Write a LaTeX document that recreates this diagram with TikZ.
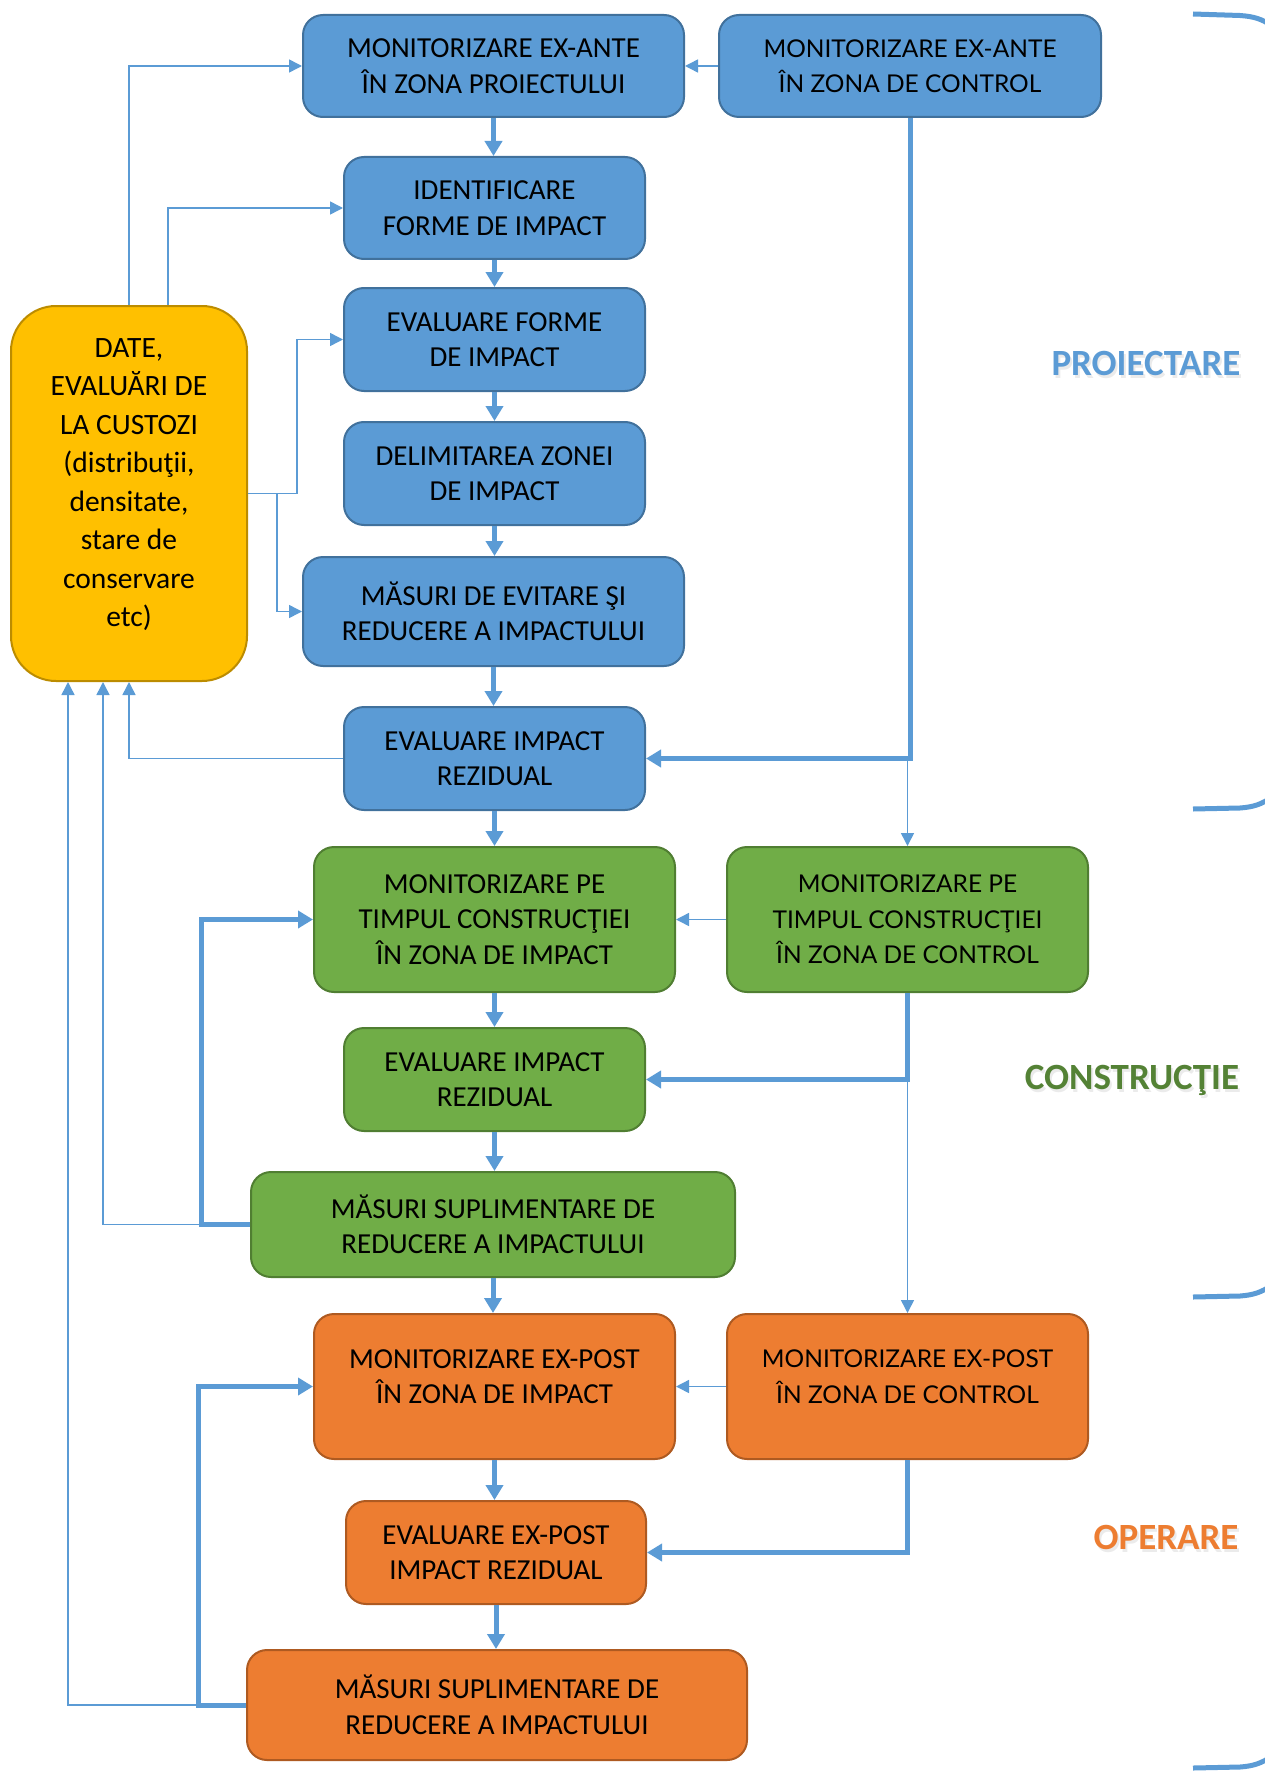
\documentclass[tikz,border=0pt]{standalone}
\usepackage{fontspec}
\setmainfont{Carlito}
\newfontfamily\ctrlfont{Lato}
\usetikzlibrary{arrows.meta}

\definecolor{pblue}{HTML}{5B9BD5}
\definecolor{pblueD}{HTML}{41719C}
\definecolor{pgreen}{HTML}{70AD47}
\definecolor{pgreenD}{HTML}{507E32}
\definecolor{pgreenL}{HTML}{548235}
\definecolor{porange}{HTML}{ED7D31}
\definecolor{porangeD}{HTML}{AE5A21}
\definecolor{pyellow}{HTML}{FFC000}
\definecolor{pyellowD}{HTML}{BC8C00}

\tikzset{
  box/.style={draw, line width=2pt, rounded corners=20pt, align=center,
    inner sep=0pt, text=black, font=\fontsize{29}{35.5}\selectfont},
  ctrl/.style={font=\ctrlfont\fontsize{24.5}{35.5}\selectfont},
  bluebox/.style={box, fill=pblue, draw=pblueD},
  greenbox/.style={box, fill=pgreen, draw=pgreenD},
  orangebox/.style={box, fill=porange, draw=porangeD},
  yellowbox/.style={box, fill=pyellow, draw=pyellowD, rounded corners=45pt},
  flowthick/.style={draw=pblue, line width=5pt, -{Triangle[length=15pt,width=17pt]}},
  flowthin/.style={draw=pblue, line width=1.5pt, -{Triangle[length=13pt,width=13pt]}},
  phase/.style={font=\bfseries\fontsize{37}{40}\selectfont},
  phaseshade/.style={phase, text=black!40, opacity=0.2},
  bracestroke/.style={draw=pblue, line width=5pt}
}

\begin{document}
\begin{tikzpicture}[x=1pt, y=-1pt]
\useasboundingbox (0,0) rectangle (1265,1771);

% design phase
\node[bluebox, minimum width=381pt, minimum height=102pt] (A) at (493.5,66)
  {MONITORIZARE EX-ANTE\\ÎN ZONA PROIECTULUI};
\node[bluebox, ctrl, minimum width=382pt, minimum height=102pt] (B) at (910,66)
  {MONITORIZARE EX-ANTE\\ÎN ZONA DE CONTROL};
\node[bluebox, minimum width=301pt, minimum height=102pt] (C) at (494.5,208)
  {IDENTIFICARE\\FORME DE IMPACT};
\node[bluebox, minimum width=301pt, minimum height=103pt] (D) at (494.5,339.5)
  {EVALUARE FORME\\DE IMPACT};
\node[bluebox, minimum width=301pt, minimum height=103pt] (E) at (494.5,473.5)
  {DELIMITAREA ZONEI\\DE IMPACT};
\node[bluebox, minimum width=381pt, minimum height=109pt] (F) at (493.5,611.5)
  {MĂSURI DE EVITARE ŞI\\REDUCERE A IMPACTULUI};
\node[bluebox, minimum width=301pt, minimum height=103pt] (G) at (494.5,758.5)
  {EVALUARE IMPACT\\REZIDUAL};

% data from custodians
\node[yellowbox, minimum width=236pt, minimum height=375pt] (Y) at (129,493.5) {};
\node[align=center, font=\fontsize{29.5}{38.5}\selectfont] (Yt) at ([yshift=9pt]Y.center)
  {DATE,\\EVALUĂRI DE\\LA CUSTOZI\\(distribuţii,\\densitate,\\stare de\\conservare\\etc)};

% construction phase
\node[greenbox, minimum width=361pt, minimum height=145pt] (H) at (494.5,919.5)
  {MONITORIZARE PE\\TIMPUL CONSTRUCŢIEI\\ÎN ZONA DE IMPACT};
\node[greenbox, ctrl, minimum width=361pt, minimum height=145pt] (I) at (907.5,919.5)
  {MONITORIZARE PE\\TIMPUL CONSTRUCŢIEI\\ÎN ZONA DE CONTROL};
\node[greenbox, minimum width=301pt, minimum height=103pt] (J) at (494.5,1079.5)
  {EVALUARE IMPACT\\REZIDUAL};
\node[greenbox, minimum width=484pt, minimum height=105pt] (K) at (493,1224.5)
  {MĂSURI SUPLIMENTARE DE\\REDUCERE A IMPACTULUI};

% operation phase
\node[orangebox, minimum width=361pt, minimum height=145pt] (L) at (494.5,1386.5) {};
\node[align=center, font=\fontsize{29}{35.5}\selectfont] (Lt) at ([yshift=10pt]L.center)
  {MONITORIZARE EX-POST\\ÎN ZONA DE IMPACT};
\node[orangebox, minimum width=361pt, minimum height=145pt] (M) at (907.5,1386.5) {};
\node[align=center, ctrl] (Mt) at ([yshift=10pt]M.center)
  {MONITORIZARE EX-POST\\ÎN ZONA DE CONTROL};
\node[orangebox, minimum width=300pt, minimum height=103pt] (N) at (496,1552.5)
  {EVALUARE EX-POST\\IMPACT REZIDUAL};
\node[orangebox, minimum width=500pt, minimum height=110pt] (O) at (497,1705)
  {MĂSURI SUPLIMENTARE DE\\REDUCERE A IMPACTULUI};

% main sequence
\draw[flowthick] (A.south) -- (A.south |- C.north);
\draw[flowthick] (C.south) -- (D.north);
\draw[flowthick] (D.south) -- (E.north);
\draw[flowthick] (E.south) -- (E.south |- F.north);
\draw[flowthick] (F.south) -- (F.south |- G.north);
\draw[flowthick] (G.south) -- (G.south |- H.north);
\draw[flowthick] (H.south) -- (J.north);
\draw[flowthick] (J.south) -- (J.south |- K.north);
\draw[flowthick] (K.south) -- (K.south |- L.north);
\draw[flowthick] (L.south) -- (L.south |- N.north);
\draw[flowthick] (N.south) -- (N.south |- O.north);

% inputs from the custodians' data
\draw[flowthin] (Y.north) |- (A.west);
\draw[flowthin] ([xshift=39pt]Y.north) |- (C.west);
\draw[flowthin] (Y.east) -- ++(49,0) |- (D.west);
\draw[flowthin] (Y.east) -- ++(29,0) |- (F.west);

% feedback to the custodians' data
\draw[flowthin] (G.west) -| (Y.south);
\draw[flowthin] (K.west) -| ([xshift=-26pt]Y.south);
\draw[flowthin] (O.west) -| ([xshift=-61pt]Y.south);

% loops back to monitoring
\draw[flowthick] (K.west) -- ++(-49,0) |- (H.west);
\draw[flowthick] (O.west) -- ++(-48,0) |- (L.west);

% control zone links
\draw[flowthin] (B.west) -- (A.east);
\draw[flowthick] (B.south) |- (G.east);
\coordinate (b1) at (I.north |- G.east);
\draw[flowthin] (b1) -- (I.north);
\draw[flowthin] (I.west) -- (H.east);
\draw[flowthick] (I.south) |- (J.east);
\coordinate (i1) at (M.north |- J.east);
\draw[flowthin] (i1) -- (M.north);
\draw[flowthin] (M.west) -- (L.east);
\draw[flowthick] (M.south) |- (N.east);

% phase labels
\node[phaseshade] (p1s) at (1148,366) {PROIECTARE};
\node[phase, text=pblue] (p1) at (1146,363) {PROIECTARE};
\node[phaseshade] (p2s) at (1134,1083) {CONSTRUCŢIE};
\node[phase, text=pgreenL] (p2) at (1132,1080) {CONSTRUCŢIE};
\node[phaseshade] (p3s) at (1168,1540) {OPERARE};
\node[phase, text=porange] (p3) at (1166,1537) {OPERARE};

% brace ends along the right margin
\begin{scope}
\clip (0,0) rectangle (1265,1771);
\draw[bracestroke] (1193,14) -- (1240,15.5) .. controls (1254,16.5) and (1262,19) .. (1272,26);
\draw[bracestroke] (1193,809) -- (1240,808) .. controls (1254,807) and (1262,804) .. (1272,797);
\draw[bracestroke] (1193,1297) -- (1240,1296) .. controls (1254,1295) and (1262,1292) .. (1272,1285);
\draw[bracestroke] (1193,1768) -- (1240,1767) .. controls (1254,1766) and (1262,1763) .. (1272,1756);
\end{scope}
\end{tikzpicture}
\end{document}
